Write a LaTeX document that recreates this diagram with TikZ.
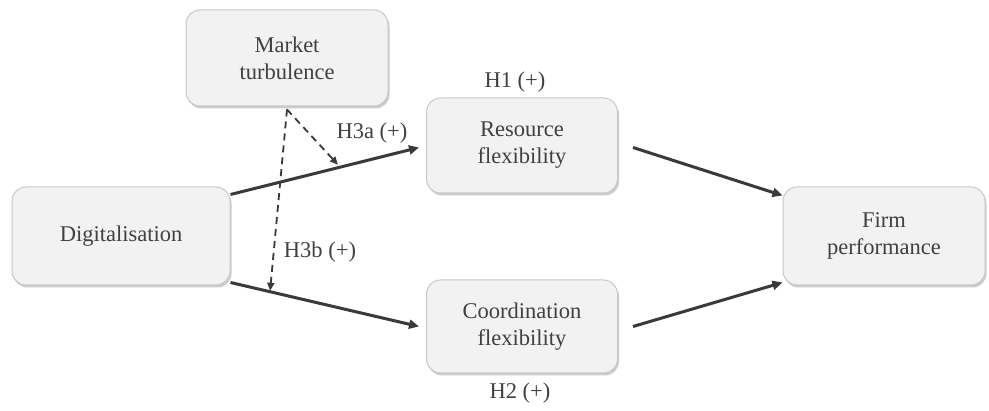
\documentclass[tikz,border=0pt]{standalone}
\usepackage{fontspec}
\setmainfont{Liberation Serif}
\usetikzlibrary{arrows.meta,shadows,positioning}
\definecolor{txt}{HTML}{404040}
\definecolor{boxfill}{HTML}{F2F2F2}
\definecolor{boxline}{HTML}{C8C8C8}
\definecolor{arrcol}{HTML}{3A3A3A}
\begin{document}
\begin{tikzpicture}[x=1pt,y=-1pt,
  box/.style={rectangle, rounded corners=14pt, draw=boxline, line width=1pt, fill=boxfill,
    align=center, text=txt, font=\fontsize{22.5}{27}\selectfont,
    drop shadow={opacity=0.4, shadow xshift=1.5pt, shadow yshift=-2.5pt}},
  arr/.style={draw=arrcol, line width=3pt, -{Triangle[length=10pt,width=9pt]}},
  darr/.style={draw=arrcol, line width=1.8pt, dash pattern=on 7pt off 5pt, -{Triangle[length=8pt,width=7pt]}},
  lbl/.style={text=txt, font=\fontsize{22.5}{27}\selectfont, inner sep=0pt}]
\useasboundingbox (0,0) rectangle (989,411);
\fill[white] (0,0) rectangle (989,411);

\node[box, minimum width=202pt, minimum height=96pt] (market) at (287,58) {Market\\turbulence};
\node[box, minimum width=218pt, minimum height=98pt] (digit) at (121,236) {Digitalisation};
\node[box, minimum width=191pt, minimum height=95pt] (res) at (522,145.5) {Resource\\flexibility};
\node[box, minimum width=191pt, minimum height=93pt] (coord) at (522,326.5) {Coordination\\flexibility};
\node[box, minimum width=202pt, minimum height=98pt] (firm) at (884,236) {Firm\\performance};

\draw[arr] ([yshift=-8pt]digit.north east) -- ([xshift=-7pt,yshift=-2pt]res.west) coordinate[pos=0.57] (p1);
\draw[arr] ([yshift=3pt]digit.south east) -- ([xshift=-7pt]coord.west) coordinate[pos=0.21] (p2);
\draw[arr] ([xshift=15pt,yshift=-2pt]res.east) -- ([yshift=-9pt]firm.north west);
\draw[arr] ([xshift=15pt]coord.east) -- ([yshift=3pt]firm.south west);

\coordinate (mt) at ([yshift=-3pt]market.south);
\draw[darr] (mt) -- ([yshift=3pt]p1);
\draw[darr] (mt) -- ([yshift=1pt]p2);

\node[lbl] (h1) at (515,82) {H1 (+)};
\node[lbl] (h2) at (520,393) {H2 (+)};
\node[lbl] (h3a) at (372,133) {H3a (+)};
\node[lbl] (h3b) at (320,252) {H3b (+)};
\end{tikzpicture}
\end{document}
